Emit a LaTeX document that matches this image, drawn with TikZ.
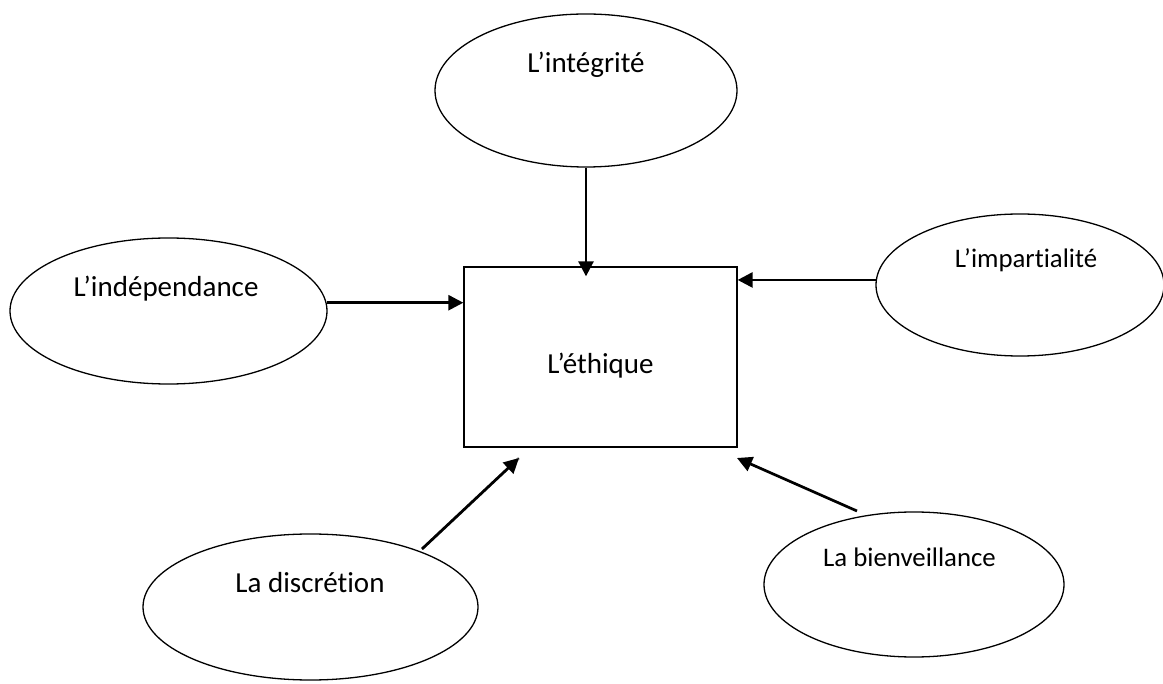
\documentclass[tikz,border=0pt]{standalone}
\usepackage{fontspec}
\setmainfont{Carlito}[RawFeature=-liga]
\usetikzlibrary{shapes.geometric,arrows.meta}
\tikzset{
  oval/.style={ellipse,draw,line width=1.3pt,inner sep=0pt},
  centerbox/.style={rectangle,draw,line width=1.3pt,inner sep=0pt},
  biglbl/.style={font=\fontsize{29}{30}\selectfont,anchor=base,inner sep=0pt},
  smalllbl/.style={font=\fontsize{26.8}{28}\selectfont,anchor=base,inner sep=0pt},
  arr/.style={line width=2.7pt,-{Triangle[length=15pt,width=15pt]}},
}
\begin{document}
\begin{tikzpicture}[x=1pt,y=-1pt]
\useasboundingbox (0,0) rectangle (1163,684);
% nodes
\node[centerbox,minimum width=273pt,minimum height=180pt] (eth) at (600.5,357) {};
\node[oval,minimum width=302pt,minimum height=153pt] (integ) at (586,90.5) {};
\node[oval,minimum width=317pt,minimum height=146pt] (indep) at (168.5,311) {};
\node[oval,minimum width=288pt,minimum height=142pt] (impart) at (1020,285) {};
\node[oval,minimum width=335pt,minimum height=146pt] (discr) at (310.5,607) {};
\node[oval,minimum width=300pt,minimum height=145pt] (bienv) at (914,584.5) {};
% labels
\node[biglbl] at (600.5,374) {L’éthique};
\node[biglbl] at (586,73) {L’intégrité};
\node[biglbl] at (166,297) {L’indépendance};
\node[smalllbl] at (1026,268) {L’impartialité};
\node[biglbl] at (310,593) {La discrétion};
\node[smalllbl] at (909.5,566) {La bienveillance};
% connector ends
\coordinate (blfree) at (422,549);
\coordinate (bltip) at (519,458);
\coordinate (brfree) at (857,511);
\coordinate (brtip) at (737,458);
% connectors
\draw[arr,shorten >=-10pt] (integ.south) -- (integ.south |- eth.north);
\draw[arr] (indep.3) -- (indep.3 -| eth.west);
\draw[arr] (impart.178) -- (impart.178 -| eth.east);
\draw[line width=2.7pt,gray!70,shift={(1.6,1.6)}] (blfree) -- (bltip);
\draw[arr] (blfree) -- (bltip);
\draw[arr] (brfree) -- (brtip);
\end{tikzpicture}
\end{document}
